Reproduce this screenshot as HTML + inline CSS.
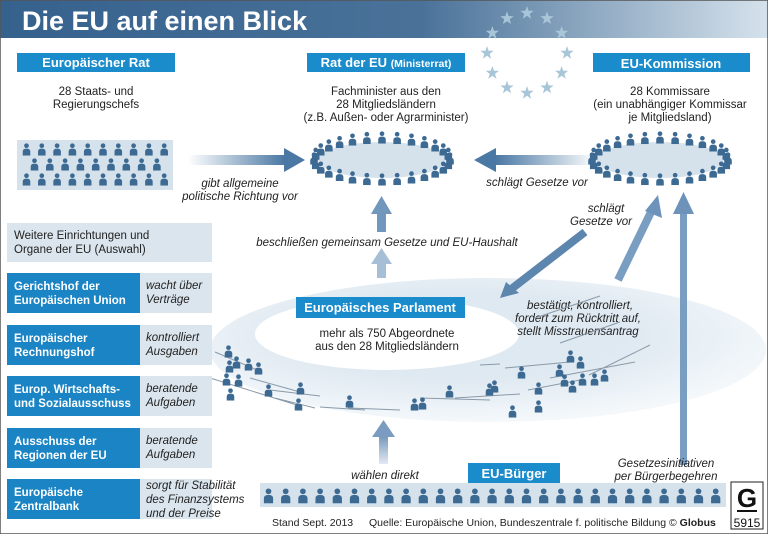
<!DOCTYPE html>
<html><head><meta charset="utf-8"><style>
html,body{margin:0;padding:0;background:#fff;}
svg{display:block;font-family:"Liberation Sans",sans-serif;}
</style></head><body>
<svg id="s" width="768" height="534" viewBox="0 0 768 534" xmlns="http://www.w3.org/2000/svg">
<defs>
<linearGradient id="hd" x1="0" x2="1" y1="0" y2="0"><stop offset="0" stop-color="#35618d"/><stop offset="0.55" stop-color="#4a7299"/><stop offset="1" stop-color="#d5e2ec"/></linearGradient>
<linearGradient id="ar" x1="0" x2="1"><stop offset="0" stop-color="#4a77a3" stop-opacity="0"/><stop offset="1" stop-color="#4a77a3"/></linearGradient>
<linearGradient id="al" x1="1" x2="0"><stop offset="0" stop-color="#4a77a3" stop-opacity="0"/><stop offset="1" stop-color="#4a77a3"/></linearGradient>
<linearGradient id="au" x1="0" x2="0" y1="1" y2="0"><stop offset="0" stop-color="#6f93b8" stop-opacity="0.2"/><stop offset="1" stop-color="#6f93b8"/></linearGradient>
<radialGradient id="pg" cx="0.45" cy="0.4" r="0.6"><stop offset="0.5" stop-color="#dfe9f1"/><stop offset="1" stop-color="#f4f8fb"/></radialGradient>
<symbol id="p" viewBox="0 0 10 14"><circle cx="5" cy="3" r="2.6" fill="#3d6a93"/><path d="M0.8 14V9.5Q0.8 6.3 5 6.3Q9.2 6.3 9.2 9.5V14Z" fill="#3d6a93"/></symbol>
</defs>
<rect x="0" y="0" width="768" height="534" fill="#fff"/>
<rect x="0" y="0" width="768" height="38" fill="url(#hd)"/>
<rect x="0" y="0" width="768" height="534" fill="none" stroke="#555" stroke-width="1.5"/>
<text x="22" y="30" font-size="27" font-weight="bold" fill="#fff">Die EU auf einen Blick</text>
<g id="stars" fill="#a9c6d9"></g>

<!-- title boxes -->
<rect x="17" y="53" width="158" height="19" fill="#1a8bcb"/>
<text x="96" y="67" font-size="13" font-weight="bold" fill="#fff" text-anchor="middle">Europäischer Rat</text>
<rect x="307" y="53" width="158" height="19" fill="#1a8bcb"/>
<text x="386" y="67" font-size="13" font-weight="bold" fill="#fff" text-anchor="middle">Rat der EU <tspan font-size="10.5">(Ministerrat)</tspan></text>
<rect x="593" y="53" width="157" height="19" fill="#1a8bcb"/>
<text x="671" y="68" font-size="13" font-weight="bold" fill="#fff" text-anchor="middle">EU-Kommission</text>

<g font-size="11.5" fill="#222" text-anchor="middle">
<text x="96" y="95">28 Staats- und</text><text x="96" y="108">Regierungschefs</text>
<text x="386" y="95">Fachminister aus den</text><text x="386" y="108">28 Mitgliedsländern</text><text x="386" y="121">(z.B. Außen- oder Agrarminister)</text>
<text x="670" y="95">28 Kommissare</text><text x="670" y="108">(ein unabhängiger Kommissar</text><text x="670" y="121">je Mitgliedsland)</text>
</g>

<rect x="17" y="140" width="156" height="50" fill="#d5e2ec"/>
<g id="rat"></g>
<ellipse cx="382" cy="160" rx="64" ry="18" fill="#d5e2ec"/>
<ellipse cx="660" cy="160" rx="64" ry="18" fill="#d5e2ec"/>
<g id="rings"></g>

<!-- arrows -->
<rect x="188" y="155" width="97" height="10" fill="url(#ar)"/>
<path d="M284 148L305 160L284 172Z" fill="#4a77a3"/>
<rect x="495" y="155" width="102" height="10" fill="url(#al)"/>
<path d="M496 148L474 160L496 172Z" fill="#4a77a3"/>
<g font-size="11.5" font-style="italic" fill="#222" text-anchor="middle">
<text x="240" y="187">gibt allgemeine</text><text x="240" y="200">politische Richtung vor</text>
<text x="537" y="186">schlägt Gesetze vor</text>
<text x="606" y="212">schlägt</text><text x="601" y="225">Gesetze vor</text>
<text x="387" y="246">beschließen gemeinsam Gesetze und EU-Haushalt</text>
</g>
<rect x="377" y="212" width="9" height="20" fill="#7197bd"/>
<path d="M371 214L381.5 196L392 214Z" fill="#7197bd"/>
<rect x="377" y="262" width="9" height="16" fill="#a7bfd6"/>
<path d="M371 264L381.5 248L392 264Z" fill="#a7bfd6"/>

<!-- parliament -->
<ellipse cx="488" cy="350" rx="278" ry="72" fill="url(#pg)"/>
<ellipse cx="387" cy="334" rx="132" ry="36" fill="#fff"/>
<path d="M585 232L510 290" stroke="#5d86ae" stroke-width="8"/>
<path d="M500 298L506 282L519 293Z" fill="#5d86ae"/>
<path d="M618 280L652 210" stroke="#7a9dc2" stroke-width="8"/>
<path d="M658 195L662 218L645 211Z" fill="#6d93bb"/>
<rect x="680" y="210" width="7" height="255" fill="#7a9dc2"/>
<path d="M673 214L683.5 192L694 214Z" fill="#6d93bb"/>
<rect x="296" y="297" width="169" height="21" fill="#1a8bcb"/>
<text x="380" y="312" font-size="13" font-weight="bold" fill="#fff" text-anchor="middle">Europäisches Parlament</text>
<g font-size="11.5" fill="#222" text-anchor="middle">
<text x="387" y="337">mehr als 750 Abgeordnete</text><text x="387" y="350">aus den 28 Mitgliedsländern</text></g>
<g font-size="11.5" font-style="italic" fill="#222" text-anchor="middle">
<text x="580" y="309">bestätigt, kontrolliert,</text><text x="578" y="322">fordert zum Rücktritt auf,</text><text x="578" y="335">stellt Misstrauensantrag</text>
<text x="385" y="479">wählen direkt</text>
<text x="666" y="467">Gesetzesinitiativen</text><text x="666" y="480">per Bürgerbegehren</text>
</g>
<g stroke="#8a9aaa" stroke-width="1" fill="none">
<path d="M215 352L262 372M250 378L300 392M270 390L320 396M320 407L365 410M348 408L400 410M210 378L300 406M275 398L315 408M420 398L490 400M455 398L520 394M528 390L580 380M550 378L635 362M589 375L650 345M505 368L570 362M480 365L500 364M535 318L600 296M560 343L620 322"/>
</g>
<g id="parl"></g>
<rect x="379" y="434" width="9" height="30" fill="url(#au)"/>
<path d="M372 437L383.5 420L395 437Z" fill="#7b9cc0"/>

<!-- citizens -->
<rect x="260" y="483" width="466" height="24" fill="#d5e2ec"/>
<rect x="468" y="463" width="92" height="20" fill="#1a8bcb"/>
<text x="514" y="478" font-size="13" font-weight="bold" fill="#fff" text-anchor="middle">EU-Bürger</text>
<g id="cit"></g>
<text x="272" y="526" font-size="10.5" fill="#222">Stand Sept. 2013</text>
<text x="369" y="526" font-size="10.5" fill="#222">Quelle: Europäische Union, Bundeszentrale f. politische Bildung  © <tspan font-weight="bold">Globus</tspan></text>
<rect x="731" y="482" width="32" height="47" fill="#fff" stroke="#222"/>
<text x="747" y="507" font-size="26" font-weight="bold" fill="#111" text-anchor="middle">G</text>
<line x1="737" y1="511" x2="757" y2="511" stroke="#111" stroke-width="2"/>
<text x="747" y="527" font-size="12" fill="#111" text-anchor="middle">5915</text>

<!-- left panel -->
<rect x="7" y="223" width="205" height="39" fill="#dbe5ed"/>
<text x="14" y="239" font-size="11.5" fill="#222">Weitere Einrichtungen und</text>
<text x="14" y="253" font-size="11.5" fill="#222">Organe der EU (Auswahl)</text>
<g id="left"></g>
</svg>
<script>
var NS="http://www.w3.org/2000/svg";
function use(g,x,y,w){var u=document.createElementNS(NS,"use");u.setAttribute("href","#p");u.setAttribute("x",x);u.setAttribute("y",y);u.setAttribute("width",w);u.setAttribute("height",w*1.4);document.getElementById(g).appendChild(u);}
// stars
var st=document.getElementById("stars");
for(var i=0;i<12;i++){var a=i*Math.PI/6,cx=527+40*Math.sin(a),cy=53-40*Math.cos(a);var d="";for(var k=0;k<10;k++){var r=k%2?2.8:7,b=k*Math.PI/5;d+=(k?"L":"M")+(cx+r*Math.sin(b)).toFixed(1)+" "+(cy-r*Math.cos(b)).toFixed(1);}var p=document.createElementNS(NS,"path");p.setAttribute("d",d+"Z");st.appendChild(p);}
// rat
for(var r=0;r<3;r++){var n=r==1?9:10,off=r==1?8:0;for(var i=0;i<n;i++)use("rat",22+off+i*15.3,143+r*15,9);}
// rings
[[382,160],[660,160]].forEach(function(c){for(var i=0;i<28;i++){var a=i/28*2*Math.PI;var x=c[0]+68*Math.cos(a),y=c[1]+21*Math.sin(a);use("rings",x-4.5,y-8,9);}});
// parliament
[[224,345],[232,356],[244,358],[254,362],[222,373],[234,374],[226,388],[264,384],[296,382],[294,398],[345,395],[410,398],[418,397],[445,385],[485,383],[508,405],[517,366],[534,382],[534,400],[555,364],[560,374],[566,350],[568,380],[578,373],[590,373],[600,369],[576,356],[490,380],[225,360]].forEach(function(q){use("parl",q[0],q[1],9);});
// citizens
for(var i=0;i<27;i++)use("cit",263+i*17.2,488,11);
// left boxes
var L=[["Gerichtshof der","Europäischen Union","wacht über","Verträge",""],["Europäischer","Rechnungshof","kontrolliert","Ausgaben",""],["Europ. Wirtschafts-","und Sozialausschuss","beratende","Aufgaben",""],["Ausschuss der","Regionen der EU","beratende","Aufgaben",""],["Europäische","Zentralbank","sorgt für Stabilität","des Finanzsystems","und der Preise"]];
var Y=[273,325,376,428,479],lg=document.getElementById("left");
function t(x,y,s,st){var e=document.createElementNS(NS,"text");e.setAttribute("x",x);e.setAttribute("y",y);e.setAttribute("font-size","11.5");for(var k in st)e.setAttribute(k,st[k]);e.textContent=s;lg.appendChild(e);}
function rc(x,y,w,h,f){var e=document.createElementNS(NS,"rect");e.setAttribute("x",x);e.setAttribute("y",y);e.setAttribute("width",w);e.setAttribute("height",h);e.setAttribute("fill",f);lg.appendChild(e);}
L.forEach(function(b,i){var y=Y[i];rc(7,y,133,40,"#1a84c4");rc(140,y,72,40,"#dbe5ed");
t(14,y+17,b[0],{fill:"#fff","font-weight":"bold"});t(14,y+31,b[1],{fill:"#fff","font-weight":"bold"});
if(b[4]){t(146,y+10,b[2],{"font-style":"italic",fill:"#222"});t(146,y+24,b[3],{"font-style":"italic",fill:"#222"});t(146,y+38,b[4],{"font-style":"italic",fill:"#222"});}
else{t(146,y+16,b[2],{"font-style":"italic",fill:"#222"});t(146,y+30,b[3],{"font-style":"italic",fill:"#222"});}});
</script>
</body></html>
